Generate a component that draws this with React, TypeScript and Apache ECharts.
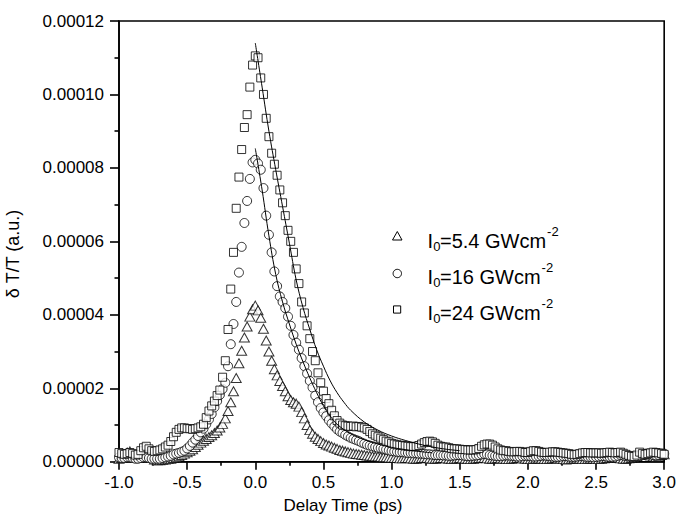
import React, { useEffect, useRef } from "react";
import * as echarts from "echarts";

// Delay time (ps)
const delayTimes = [
  -1.0, -0.98, -0.96, -0.94, -0.92, -0.9, -0.88, -0.86, -0.84, -0.82,
  -0.8, -0.78, -0.76, -0.74, -0.72, -0.7, -0.68, -0.66, -0.64, -0.62,
  -0.6, -0.58, -0.56, -0.54, -0.52, -0.5, -0.48, -0.46, -0.44, -0.42,
  -0.4, -0.38, -0.36, -0.34, -0.32, -0.3, -0.28, -0.26, -0.24, -0.22,
  -0.2, -0.18, -0.16, -0.14, -0.12, -0.1, -0.08, -0.06, -0.04, -0.02,
  0.0, 0.02, 0.04, 0.06, 0.08, 0.1, 0.12, 0.14, 0.16, 0.18,
  0.2, 0.22, 0.24, 0.26, 0.28, 0.3, 0.32, 0.34, 0.36, 0.38,
  0.4, 0.42, 0.44, 0.46, 0.48, 0.5, 0.52, 0.54, 0.56, 0.58,
  0.6, 0.62, 0.64, 0.66, 0.68, 0.7, 0.72, 0.74, 0.76, 0.78,
  0.8, 0.82, 0.84, 0.86, 0.88, 0.9, 0.92, 0.94, 0.96, 0.98,
  1.0, 1.02, 1.04, 1.06, 1.08, 1.1, 1.12, 1.14, 1.16, 1.18,
  1.2, 1.22, 1.24, 1.26, 1.28, 1.3, 1.32, 1.34, 1.36, 1.38,
  1.4, 1.42, 1.44, 1.46, 1.48, 1.5, 1.52, 1.54, 1.56, 1.58,
  1.6, 1.62, 1.64, 1.66, 1.68, 1.7, 1.72, 1.74, 1.76, 1.78,
  1.8, 1.82, 1.84, 1.86, 1.88, 1.9, 1.92, 1.94, 1.96, 1.98,
  2.0, 2.02, 2.04, 2.06, 2.08, 2.1, 2.12, 2.14, 2.16, 2.18,
  2.2, 2.22, 2.24, 2.26, 2.28, 2.3, 2.32, 2.34, 2.36, 2.38,
  2.4, 2.42, 2.44, 2.46, 2.48, 2.5, 2.52, 2.54, 2.56, 2.58,
  2.6, 2.62, 2.64, 2.66, 2.68, 2.7, 2.72, 2.74, 2.76, 2.78,
  2.8, 2.82, 2.84, 2.86, 2.88, 2.9, 2.92, 2.94, 2.96, 2.98,
  3.0,
];

// δT/T values in units of 1e-5
const signal5p4 = [
  0.08, 0.1, 0.15, 0.25, 0.28, 0.2, 0.12, 0.1, 0.15, 0.25,
  0.3, 0.22, 0.12, 0.06, 0.04, 0.04, 0.05, 0.06, 0.07, 0.08,
  0.1, 0.12, 0.15, 0.18, 0.22, 0.26, 0.3, 0.34, 0.4, 0.46,
  0.52, 0.57, 0.62, 0.67, 0.72, 0.78, 0.85, 0.93, 1.03, 1.18,
  1.38, 1.62, 1.92, 2.28, 2.68, 3.02, 3.38, 3.68, 3.95, 4.15,
  4.25, 4.12, 3.92, 3.62, 3.3, 3.0, 2.75, 2.52, 2.35, 2.2,
  2.06, 1.92, 1.78, 1.68, 1.62, 1.58, 1.5, 1.35, 1.18, 1.0,
  0.86, 0.76, 0.68, 0.62, 0.56, 0.51, 0.47, 0.44, 0.41, 0.38,
  0.35, 0.32, 0.3, 0.28, 0.26, 0.24, 0.22, 0.21, 0.2, 0.19,
  0.18, 0.17, 0.16, 0.15, 0.14, 0.14, 0.13, 0.12, 0.12, 0.11,
  0.11, 0.1, 0.1, 0.09, 0.09, 0.1, 0.1, 0.09, 0.08, 0.08,
  0.09, 0.1, 0.11, 0.1, 0.09, 0.08, 0.08, 0.09, 0.1, 0.1,
  0.09, 0.08, 0.07, 0.08, 0.09, 0.1, 0.09, 0.08, 0.07, 0.07,
  0.08, 0.09, 0.1, 0.11, 0.1, 0.09, 0.08, 0.08, 0.09, 0.1,
  0.09, 0.08, 0.07, 0.07, 0.08, 0.09, 0.1, 0.1, 0.09, 0.08,
  0.07, 0.07, 0.08, 0.09, 0.09, 0.08, 0.07, 0.07, 0.08, 0.09,
  0.1, 0.09, 0.08, 0.07, 0.06, 0.07, 0.08, 0.09, 0.09, 0.08,
  0.07, 0.07, 0.08, 0.09, 0.08, 0.07, 0.07, 0.08, 0.09, 0.1,
  0.11, 0.12, 0.11, 0.1, 0.09, 0.08, 0.08, 0.09, 0.1, 0.12,
  0.15, 0.18, 0.2, 0.22, 0.2, 0.17, 0.14, 0.13, 0.15, 0.18,
  0.2,
];

const signal16 = [
  0.12, 0.1, 0.1, 0.12, 0.12, 0.1, 0.08, 0.08, 0.1, 0.12,
  0.12, 0.1, 0.08, 0.08, 0.08, 0.08, 0.1, 0.12, 0.14, 0.16,
  0.2, 0.22, 0.24, 0.27, 0.3, 0.36, 0.43, 0.52, 0.6, 0.7,
  0.8, 0.9, 1.02, 1.15, 1.3, 1.48, 1.65, 1.82, 1.98, 2.15,
  2.6, 3.2, 3.75, 4.35, 5.15, 5.85, 6.5, 7.1, 7.7, 8.15,
  8.22, 8.12, 7.95, 7.45, 6.7, 6.18, 5.7, 5.18, 4.78, 4.5,
  4.35, 4.18, 3.95, 3.7, 3.45, 3.24, 3.05, 2.82, 2.6, 2.4,
  2.2, 2.02, 1.8, 1.62, 1.46, 1.34, 1.24, 1.13, 1.04, 0.96,
  0.88, 0.82, 0.78, 0.73, 0.69, 0.65, 0.62, 0.59, 0.56, 0.52,
  0.49, 0.46, 0.44, 0.42, 0.4, 0.38, 0.37, 0.35, 0.33, 0.31,
  0.29, 0.28, 0.27, 0.26, 0.26, 0.25, 0.24, 0.24, 0.23, 0.23,
  0.22, 0.22, 0.21, 0.2, 0.2, 0.19, 0.18, 0.18, 0.18, 0.17,
  0.17, 0.16, 0.16, 0.17, 0.18, 0.18, 0.17, 0.16, 0.15, 0.15,
  0.16, 0.17, 0.18, 0.2, 0.21, 0.2, 0.18, 0.17, 0.16, 0.15,
  0.15, 0.16, 0.17, 0.17, 0.16, 0.15, 0.14, 0.14, 0.15, 0.16,
  0.16, 0.15, 0.14, 0.14, 0.15, 0.16, 0.17, 0.16, 0.15, 0.14,
  0.13, 0.13, 0.14, 0.15, 0.15, 0.14, 0.13, 0.13, 0.14, 0.15,
  0.15, 0.14, 0.13, 0.13, 0.12, 0.13, 0.14, 0.15, 0.15, 0.14,
  0.13, 0.13, 0.14, 0.16, 0.18, 0.17, 0.15, 0.14, 0.13, 0.13,
  0.14, 0.16, 0.18, 0.2, 0.22, 0.2, 0.18, 0.17, 0.18, 0.2,
  0.22,
];

const signal24 = [
  0.25, 0.22, 0.2, 0.22, 0.25, 0.22, 0.18, 0.2, 0.3, 0.38,
  0.42, 0.35, 0.3, 0.28, 0.3, 0.32, 0.35, 0.4, 0.45, 0.55,
  0.68, 0.8, 0.88, 0.92, 0.92, 0.9, 0.9, 0.88, 0.9, 0.92,
  0.95, 1.02, 1.2, 1.38, 1.52, 1.65, 1.8, 1.95, 2.3, 2.75,
  3.6, 4.7, 5.7, 6.9, 7.75, 8.5, 9.1, 9.45, 10.2, 10.8,
  11.05, 11.0, 10.45, 10.0, 9.35, 8.85, 8.4, 8.1, 7.8, 7.4,
  7.05, 6.7, 6.3, 6.0, 5.7, 5.25, 4.85, 4.35, 4.05, 3.7,
  3.35, 3.0, 2.75, 2.42, 2.15, 1.92, 1.72, 1.58, 1.4, 1.25,
  1.12, 1.05, 1.0, 0.98, 0.97, 0.96, 0.97, 0.95, 0.96, 0.94,
  0.92, 0.88, 0.82, 0.76, 0.72, 0.68, 0.64, 0.6, 0.56, 0.54,
  0.5, 0.48, 0.46, 0.45, 0.44, 0.43, 0.42, 0.41, 0.41, 0.42,
  0.44, 0.48, 0.52, 0.55, 0.56, 0.54, 0.5, 0.45, 0.42, 0.4,
  0.4, 0.38, 0.36, 0.35, 0.35, 0.34, 0.33, 0.33, 0.32, 0.32,
  0.32, 0.33, 0.36, 0.42, 0.46, 0.48, 0.48, 0.45, 0.4, 0.35,
  0.32, 0.3, 0.3, 0.28, 0.27, 0.27, 0.28, 0.28, 0.27, 0.25,
  0.25, 0.28, 0.3, 0.3, 0.28, 0.26, 0.25, 0.25, 0.26, 0.27,
  0.27, 0.26, 0.25, 0.24, 0.23, 0.22, 0.2, 0.19, 0.2, 0.22,
  0.24, 0.25, 0.25, 0.24, 0.24, 0.24, 0.24, 0.23, 0.24, 0.25,
  0.26, 0.25, 0.24, 0.25, 0.26, 0.23, 0.2, 0.17, 0.15, 0.14,
  0.18, 0.26, 0.22, 0.2, 0.22, 0.24, 0.26, 0.25, 0.24, 0.22,
  0.2,
];

// Fit curves (units of 1e-5)
const fit16Times = [0, 0.05, 0.1, 0.15, 0.2, 0.25, 0.3, 0.35, 0.4, 0.45, 0.5, 0.55, 0.6, 0.7, 0.8, 0.9, 1.0, 1.1, 1.2, 1.3];
const fit16Values = [8.53, 7.4, 6.15, 5.1, 4.35, 3.75, 3.2, 2.72, 2.28, 1.88, 1.52, 1.24, 1.02, 0.76, 0.6, 0.48, 0.39, 0.33, 0.28, 0.24];
const fit24Times = [0, 0.05, 0.1, 0.15, 0.2, 0.25, 0.3, 0.35, 0.4, 0.45, 0.5, 0.55, 0.6, 0.65, 0.7, 0.8, 0.9, 1.0, 1.1, 1.2, 1.3, 1.4, 1.5];
const fit24Values = [11.4, 10.2, 9.0, 7.95, 6.95, 5.95, 4.95, 4.2, 3.6, 3.05, 2.6, 2.2, 1.88, 1.62, 1.4, 1.08, 0.86, 0.7, 0.58, 0.48, 0.4, 0.34, 0.3];

const xTickValues = [-1.0, -0.5, 0.0, 0.5, 1.0, 1.5, 2.0, 2.5, 3.0];
const yTickValues = [0, 0.00002, 0.00004, 0.00006, 0.00008, 0.0001, 0.00012];

const legendLabels = [
  { main: "=5.4 GWcm", sym: "triangle" },
  { main: "=16 GWcm", sym: "circle" },
  { main: "=24 GWcm", sym: "square" },
];

const UNIT = 1e-5;
const FONT = "'Liberation Sans', Arial, Helvetica, sans-serif";

export default function App() {
  const ref = useRef<HTMLDivElement>(null);

  useEffect(() => {
    if (!ref.current) return;
    const chart = echarts.init(ref.current, null, { renderer: "svg" });

    const toPoints = (times: number[], vals: number[]) =>
      times.map((t, i) => [t, vals[i] * UNIT]);

    const markerStyle = { color: "#ffffff", borderColor: "#000000", borderWidth: 1 };

    const axisLineStyle = { color: "#000", width: 1.6 };

    const legendRows = [241, 277, 313];
    const symbolRows = [236, 273.5, 309.5];
    const graphics: any[] = [];
    // legend symbols
    graphics.push({
      type: "polygon",
      shape: { points: [[392.5, symbolRows[0] + 4], [402, symbolRows[0] + 4], [397.3, symbolRows[0] - 4.5]] },
      style: { fill: "#fff", stroke: "#000", lineWidth: 1 },
    });
    graphics.push({
      type: "circle",
      shape: { cx: 397.3, cy: symbolRows[1], r: 4.2 },
      style: { fill: "#fff", stroke: "#000", lineWidth: 1 },
    });
    graphics.push({
      type: "rect",
      shape: { x: 393.5, y: symbolRows[2] - 3.6, width: 7.2, height: 7.2 },
      style: { fill: "#fff", stroke: "#000", lineWidth: 1 },
    });
    legendLabels.forEach((lab, i) => {
      const y = legendRows[i];
      const mainW = i === 0 ? 106.1 : 100.6;
      graphics.push({
        type: "text",
        x: 427.5,
        y,
        style: { text: "I", font: `20px ${FONT}`, fill: "#000", textAlign: "left", textVerticalAlign: "middle" },
      });
      graphics.push({
        type: "text",
        x: 433.2,
        y: y + 5.5,
        style: { text: "0", font: `13px ${FONT}`, fill: "#000", textAlign: "left", textVerticalAlign: "middle" },
      });
      graphics.push({
        type: "text",
        x: 440,
        y,
        style: { text: lab.main, font: `20px ${FONT}`, fill: "#000", textAlign: "left", textVerticalAlign: "middle" },
      });
      graphics.push({
        type: "text",
        x: 440 + mainW + 1,
        y: y - 10,
        style: { text: "-2", font: `13px ${FONT}`, fill: "#000", textAlign: "left", textVerticalAlign: "middle" },
      });
    });
    // axis titles
    graphics.push({
      type: "text",
      x: 343,
      y: 505,
      style: { text: "Delay Time (ps)", font: `17px ${FONT}`, fill: "#000", textAlign: "center", textVerticalAlign: "middle" },
    });
    graphics.push({
      type: "text",
      x: 13,
      y: 254,
      rotation: Math.PI / 2,
      style: { text: "δ T/T (a.u.)", font: `18px ${FONT}`, fill: "#000", textAlign: "center", textVerticalAlign: "middle" },
    });

    const option: any = {
      animation: false,
      backgroundColor: "#ffffff",
      grid: {
        left: 119,
        right: 12.3,
        top: 21,
        bottom: 60.3,
        show: true,
        borderColor: "#000",
        borderWidth: 1.6,
        backgroundColor: "transparent",
      },
      xAxis: {
        type: "value",
        min: xTickValues[0],
        max: xTickValues[xTickValues.length - 1],
        interval: 0.5,
        axisLine: { show: true, onZero: false, lineStyle: axisLineStyle },
        axisTick: { show: true, inside: false, length: 8, lineStyle: axisLineStyle },
        minorTick: { show: true, splitNumber: 2, length: 4, lineStyle: axisLineStyle },
        splitLine: { show: false },
        axisLabel: {
          color: "#000",
          fontSize: 17,
          fontFamily: FONT,
          margin: 12,
          showMinLabel: true,
          showMaxLabel: true,
          formatter: (v: number) => v.toFixed(1),
        },
      },
      yAxis: {
        type: "value",
        min: yTickValues[0],
        max: yTickValues[yTickValues.length - 1],
        interval: 0.00002,
        axisLine: { show: true, onZero: false, lineStyle: axisLineStyle },
        axisTick: { show: true, inside: false, length: 9, lineStyle: axisLineStyle },
        minorTick: { show: true, splitNumber: 2, length: 4.5, lineStyle: axisLineStyle },
        splitLine: { show: false },
        axisLabel: {
          color: "#000",
          fontSize: 17,
          fontFamily: FONT,
          margin: 15,
          showMinLabel: true,
          showMaxLabel: true,
          formatter: (v: number) => v.toFixed(5),
        },
      },
      series: [
        {
          name: "I0=5.4 GWcm-2",
          type: "scatter",
          symbol: "triangle",
          symbolSize: [10, 9],
          itemStyle: markerStyle,
          data: toPoints(delayTimes, signal5p4),
          z: 2,
        },
        {
          name: "I0=16 GWcm-2",
          type: "scatter",
          symbol: "circle",
          symbolSize: 9,
          itemStyle: markerStyle,
          data: toPoints(delayTimes, signal16),
          z: 3,
        },
        {
          name: "I0=24 GWcm-2",
          type: "scatter",
          symbol: "rect",
          symbolSize: 8,
          itemStyle: markerStyle,
          data: toPoints(delayTimes, signal24),
          z: 4,
        },
        {
          name: "fit 16",
          type: "line",
          showSymbol: false,
          smooth: 0.4,
          lineStyle: { color: "#000", width: 1 },
          data: toPoints(fit16Times, fit16Values),
          z: 5,
        },
        {
          name: "fit 24",
          type: "line",
          showSymbol: false,
          smooth: 0.4,
          lineStyle: { color: "#000", width: 1 },
          data: toPoints(fit24Times, fit24Values),
          z: 5,
        },
      ],
      graphic: graphics,
    };

    chart.setOption(option);
    return () => chart.dispose();
  }, []);

  return (
    <div
      ref={ref}
      style={{ position: "absolute", left: 0, top: 0, width: 679, height: 522 }}
    />
  );
}
